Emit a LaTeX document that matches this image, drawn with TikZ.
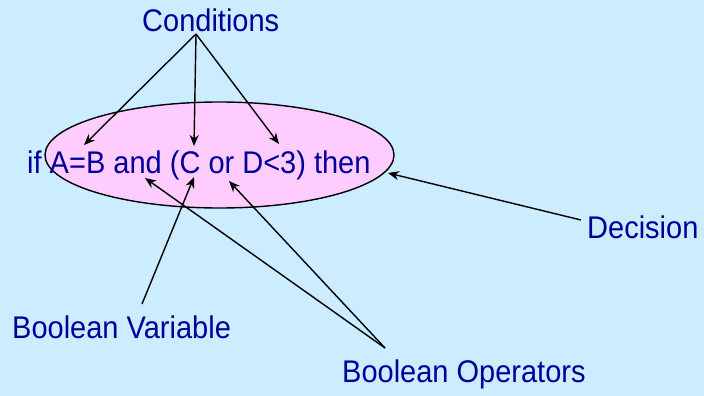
\documentclass[tikz,border=0pt]{standalone}
\usepackage{fontspec}
\setmainfont{Liberation Sans}
\usetikzlibrary{arrows.meta,shapes.geometric}
\definecolor{bgblue}{RGB}{204,236,255}
\definecolor{pinkfill}{RGB}{255,204,255}
\definecolor{txtblue}{RGB}{0,0,153}
\newcommand{\tallt}[1]{\scalebox{1}[1.08]{#1}}
\begin{document}
\begin{tikzpicture}[x=1pt,y=-1pt,
  lbl/.style={inner sep=0pt, anchor=base west, text=txtblue, font=\fontsize{29}{32}\selectfont},
  arr/.style={line width=1.4pt, -{Stealth[length=11pt,width=9pt,inset=3.5pt]}}]
\useasboundingbox (0,0) rectangle (704,396);
\fill[bgblue] (0,0) rectangle (704,396);
% ellipse
\node[ellipse, draw=black, line width=1.4pt, fill=pinkfill, minimum width=349pt, minimum height=106pt, inner sep=0pt] (ell) at (219.5,155) {};
% texts
\node[lbl] (cond) at (142,32) {\tallt{Conditions}};
\node[lbl] (stmt) at (27,173) {\tallt{if A=B and (C or D<3) then}};
\node[lbl] (dec) at (587,238) {\tallt{Decision}};
\node[lbl] (bvar) at (12,338) {\tallt{Boolean Variable}};
\node[lbl] (bop) at (342,382) {\tallt{Boolean Operators}};
% connector end points
\coordinate (cs) at (196,34);
\coordinate (tA) at (84,145);
\coordinate (tC) at (194,146);
\coordinate (tD) at (279,144);
\coordinate (bvs) at (142,304);
\coordinate (tCv) at (194,177);
\coordinate (bos) at (385,348);
\coordinate (tand) at (145,178);
\coordinate (tor) at (229,181);
\coordinate (ds) at (581,220);
\coordinate (tdec) at (388,173);
% connectors
\draw[arr] (cs) -- (tA);
\draw[arr] (cs) -- (tC);
\draw[arr] (cs) -- (tD);
\draw[arr] (bvs) -- (tCv);
\draw[arr] (bos) -- (tand);
\draw[arr] (bos) -- (tor);
\draw[arr] (ds) -- (tdec);
\end{tikzpicture}
\end{document}
